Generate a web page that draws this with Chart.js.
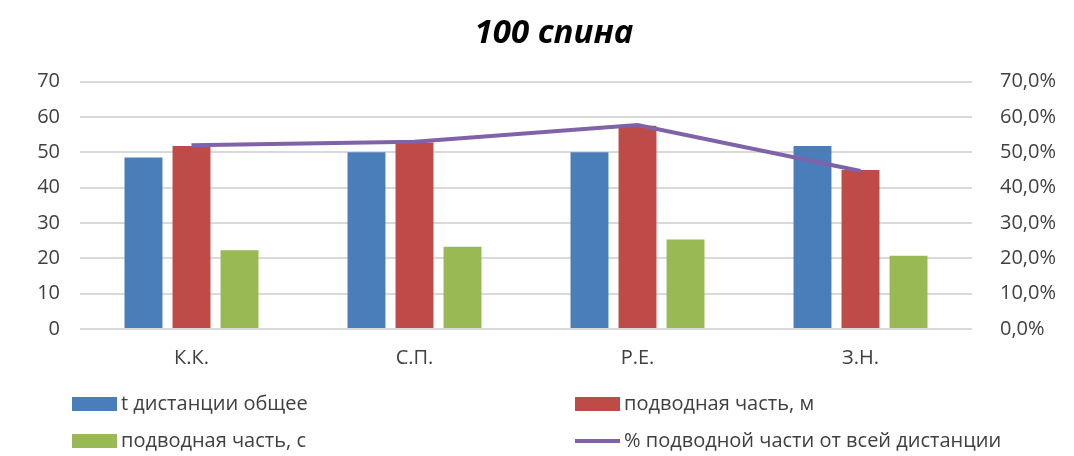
<!DOCTYPE html>
<html>
<head>
<meta charset="utf-8">
<script src="https://cdn.jsdelivr.net/npm/chart.js@4"></script>
<style>
html,body{margin:0;padding:0;background:#fff;}
#wrap{width:1074px;height:456px;position:relative;}
</style>
</head>
<body>
<div id="wrap"><canvas id="c" width="1074" height="456"></canvas></div>
<script>
const categories = ["К.К.", "С.П.", "Р.Е.", "З.Н."];
const seriesNames = ["t дистанции общее", "подводная часть, м", "подводная часть, с", "% подводной части от всей дистанции"];
const totalTime = [48.5, 50, 50, 51.8];
const underwaterM = [51.8, 52.8, 57.5, 45];
const underwaterS = [22.3, 23.3, 25.3, 20.7];
const underwaterPct = [0.52, 0.53, 0.577, 0.447];
const leftTicks = [0, 10, 20, 30, 40, 50, 60, 70];
const rightTicks = [0, 0.1, 0.2, 0.3, 0.4, 0.5, 0.6, 0.7];
const title = "100 спина";

const FONT = "'Open Sans', 'Noto Sans', sans-serif";
const TXT = "#404040";

const legendGrid = {
  id: 'legendGrid',
  afterDraw(chart) {
    const ctx = chart.ctx;
    const pos = [[72, 404], [575, 404], [72, 441], [575, 441]];
    chart.data.datasets.forEach((ds, i) => {
      const [x, y] = pos[i];
      ctx.save();
      if (ds.type === 'line') {
        ctx.strokeStyle = ds.borderColor;
        ctx.lineWidth = 4;
        ctx.beginPath();
        ctx.moveTo(x, y);
        ctx.lineTo(x + 45, y);
        ctx.stroke();
      } else {
        ctx.fillStyle = ds.backgroundColor;
        ctx.fillRect(x, y - 7, 45, 14);
      }
      ctx.fillStyle = TXT;
      ctx.font = "20px " + FONT;
      ctx.textBaseline = 'middle';
      ctx.fillText(ds.label, x + 49, y);
      ctx.restore();
    });
  }
};

new Chart(document.getElementById('c'), {
  data: {
    labels: categories,
    datasets: [
      { type: 'bar', label: seriesNames[0], data: totalTime, yAxisID: 'y', backgroundColor: '#4a7ebb', order: 1 },
      { type: 'bar', label: seriesNames[1], data: underwaterM, yAxisID: 'y', backgroundColor: '#be4b48', order: 1 },
      { type: 'bar', label: seriesNames[2], data: underwaterS, yAxisID: 'y', backgroundColor: '#98b954', order: 1 },
      { type: 'line', label: seriesNames[3], data: underwaterPct, yAxisID: 'y2', borderColor: '#7f62a8', borderWidth: 4, pointRadius: 0, tension: 0, order: 0 }
    ]
  },
  options: {
    responsive: false,
    animation: false,
    devicePixelRatio: 1,
    datasets: { bar: { categoryPercentage: 0.646, barPercentage: 0.79 } },
    layout: { padding: { top: 0, bottom: 77, left: 34, right: 0 } },
    plugins: {
      legend: { display: false },
      tooltip: { enabled: false },
      title: {
        display: true, text: title, color: '#000',
        font: { family: FONT, size: 33, weight: 'bold', style: 'italic' },
        padding: { top: 14, bottom: 28 }
      }
    },
    scales: {
      x: {
        grid: { display: false },
        border: { display: false },
        ticks: { color: TXT, font: { family: FONT, size: 20 }, padding: 9 }
      },
      y: {
        position: 'left', min: 0, max: 70,
        afterBuildTicks(s) { s.ticks = leftTicks.map(v => ({ value: v })); },
        afterFit(s) { s.width = 46; },
        grid: { color: '#d9d9d9', lineWidth: 2, drawTicks: false },
        border: { display: false },
        ticks: { color: TXT, font: { family: FONT, size: 20 }, padding: 20 }
      },
      y2: {
        position: 'right', min: 0, max: 0.7,
        afterBuildTicks(s) { s.ticks = rightTicks.map(v => ({ value: v })); },
        afterFit(s) { s.width = 102; },
        grid: { display: false },
        border: { display: false },
        ticks: {
          color: TXT, font: { family: FONT, size: 20 }, padding: 20,
          callback: v => (v * 100).toFixed(1).replace('.', ',') + '%'
        }
      }
    }
  },
  plugins: [legendGrid]
});
</script>
</body>
</html>
